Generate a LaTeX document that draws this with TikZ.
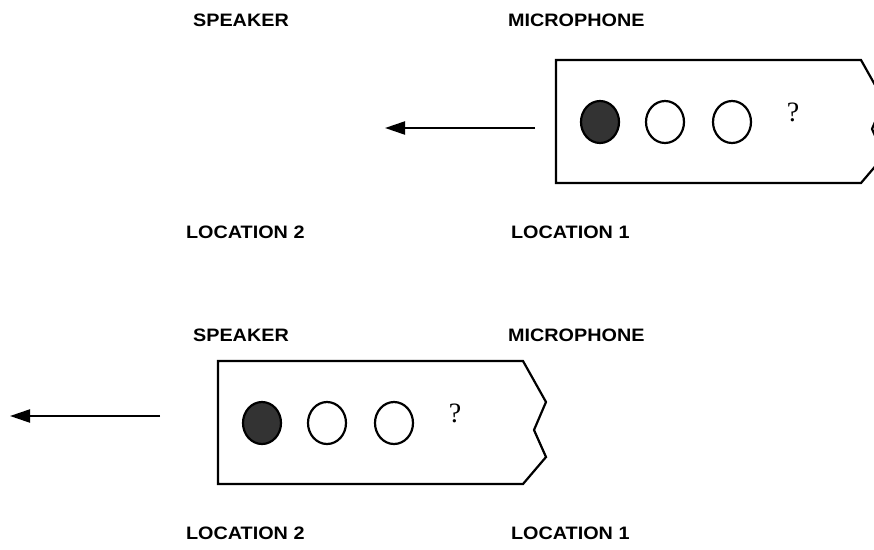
\documentclass[tikz,border=0pt]{standalone}
\usepackage{fontspec}
\newfontfamily\lblfont[FakeStretch=1.1]{Liberation Sans}
\newfontfamily\qfont{Liberation Serif}
\usetikzlibrary{arrows.meta}

\begin{document}
\begin{tikzpicture}[x=1pt, y=-1pt, line width=2.2pt,
	lbl/.style={anchor=west, inner sep=0pt, font=\lblfont\bfseries\fontsize{18}{20}\selectfont},
	qmark/.style={inner sep=0pt, font=\qfont\fontsize{28}{30}\selectfont}]
	\useasboundingbox (0,0) rectangle (874,549);
	\clip (0,0) rectangle (874,549);
	% labels
	\node [lbl] (spkA) at (192,20.5) {SPEAKER};
	\node [lbl] (micA) at (507,20.5) {MICROPHONE};
	\node [lbl] (locBA) at (185,232) {LOCATION 2};
	\node [lbl] (locAA) at (510,232) {LOCATION 1};
	\node [lbl] (spkB) at (192,335) {SPEAKER};
	\node [lbl] (micB) at (507,335) {MICROPHONE};
	\node [lbl] (locBB) at (185,533) {LOCATION 2};
	\node [lbl] (locAB) at (510,533) {LOCATION 1};
	% upper strip
	\coordinate (TA) at (556,60);
	\draw [line join=miter] (TA) -- ++(305,0) -- ++(23,41) -- ++(-12,28) -- ++(12,27) -- ++(-23,27) -- ++(-305,0) -- cycle;
	\draw [fill=black!80] (600,122) ellipse [x radius=19, y radius=21];
	\draw (665,122) ellipse [x radius=19, y radius=21];
	\draw (732,122) ellipse [x radius=19, y radius=21];
	\node [qmark] (qA) at (793,112) {?};
	\coordinate (fromA) at (535,128);
	\coordinate (toA) at (385,128);
	\draw [-{Triangle[length=20pt, width=13pt]}] (fromA) -- (toA);
	% lower strip
	\coordinate (TB) at (218,361);
	\draw [line join=miter] (TB) -- ++(305,0) -- ++(23,41) -- ++(-12,28) -- ++(12,27) -- ++(-23,27) -- ++(-305,0) -- cycle;
	\draw [fill=black!80] (262,423) ellipse [x radius=19, y radius=21];
	\draw (327,423) ellipse [x radius=19, y radius=21];
	\draw (394,423) ellipse [x radius=19, y radius=21];
	\node [qmark] (qB) at (455,413) {?};
	\coordinate (fromB) at (160,416);
	\coordinate (toB) at (10,416);
	\draw [-{Triangle[length=20pt, width=13pt]}] (fromB) -- (toB);
\end{tikzpicture}
\end{document}
